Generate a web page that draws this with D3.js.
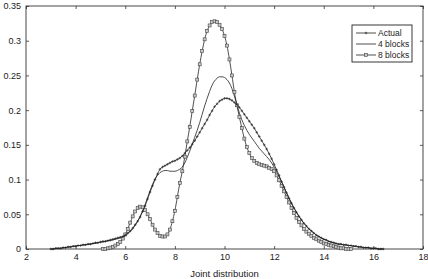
<!DOCTYPE html>
<html>
<head>
<meta charset="utf-8">
<script src="https://cdn.jsdelivr.net/npm/d3@7"></script>
<style>
  body { margin: 0; background: #fff; }
  svg { display: block; font-family: "Liberation Sans", Arial, sans-serif; }
</style>
</head>
<body>
<div id="chart"></div>
<script>
// tick labels
const xTicks = [2, 4, 6, 8, 10, 12, 14, 16, 18];
const yTicks = [0, 0.05, 0.1, 0.15, 0.2, 0.25, 0.3, 0.35];
const seriesNames = ["Actual", "4 blocks", "8 blocks"];

// sample grids (step 0.1)
const actualStart = 3.0;
const blocks4Start = 3.0;
const blocks8Start = 5.1;

// values, one per 0.1 on x
const actualY = [
  0.000, 0.000, 0.001, 0.001, 0.001, 0.002, 0.002, 0.003, 0.003, 0.004, // 3.0
  0.004, 0.005, 0.005, 0.006, 0.006, 0.007, 0.007, 0.008, 0.009, 0.009, // 4.0
  0.010, 0.011, 0.011, 0.012, 0.013, 0.014, 0.015, 0.016, 0.017, 0.018, // 5.0
  0.020, 0.023, 0.026, 0.030, 0.035, 0.040, 0.046, 0.054, 0.062, 0.072, // 6.0
  0.082, 0.091, 0.100, 0.108, 0.115, 0.118, 0.120, 0.122, 0.124, 0.126, // 7.0
  0.127, 0.129, 0.131, 0.134, 0.138, 0.142, 0.146, 0.151, 0.156, 0.162, // 8.0
  0.168, 0.174, 0.180, 0.186, 0.193, 0.199, 0.205, 0.209, 0.213, 0.215, // 9.0
  0.217, 0.217, 0.216, 0.214, 0.211, 0.208, 0.204, 0.199, 0.194, 0.189, // 10.0
  0.184, 0.179, 0.174, 0.168, 0.162, 0.156, 0.150, 0.144, 0.137, 0.130, // 11.0
  0.122, 0.114, 0.106, 0.097, 0.089, 0.081, 0.073, 0.066, 0.059, 0.053, // 12.0
  0.047, 0.042, 0.037, 0.033, 0.029, 0.026, 0.023, 0.020, 0.018, 0.016, // 13.0
  0.014, 0.013, 0.011, 0.010, 0.009, 0.008, 0.007, 0.007, 0.006, 0.006, // 14.0
  0.005, 0.005, 0.004, 0.004, 0.003, 0.003, 0.002, 0.002, 0.002, 0.001, // 15.0
  0.001, 0.001, 0.000, 0.000, 0.000                                      // 16.0
];

const blocks4Y = [
  0.000, 0.000, 0.001, 0.001, 0.001, 0.002, 0.002, 0.003, 0.003, 0.004, // 3.0
  0.004, 0.005, 0.005, 0.006, 0.006, 0.007, 0.007, 0.008, 0.008, 0.009, // 4.0
  0.010, 0.010, 0.011, 0.012, 0.012, 0.013, 0.014, 0.015, 0.016, 0.017, // 5.0
  0.019, 0.022, 0.025, 0.029, 0.034, 0.040, 0.047, 0.055, 0.064, 0.074, // 6.0
  0.084, 0.093, 0.101, 0.106, 0.110, 0.112, 0.113, 0.113, 0.112, 0.112, // 7.0
  0.112, 0.113, 0.115, 0.118, 0.124, 0.132, 0.141, 0.151, 0.161, 0.171, // 8.0
  0.182, 0.194, 0.206, 0.217, 0.227, 0.236, 0.242, 0.246, 0.248, 0.248, // 9.0
  0.247, 0.244, 0.239, 0.231, 0.220, 0.208, 0.196, 0.186, 0.178, 0.171, // 10.0
  0.165, 0.160, 0.155, 0.150, 0.145, 0.141, 0.137, 0.133, 0.129, 0.124, // 11.0
  0.118, 0.111, 0.104, 0.097, 0.089, 0.081, 0.073, 0.066, 0.059, 0.053, // 12.0
  0.047, 0.042, 0.037, 0.033, 0.029, 0.026, 0.023, 0.020, 0.018, 0.016, // 13.0
  0.014, 0.013, 0.011, 0.010, 0.009, 0.008, 0.007, 0.007, 0.006, 0.006, // 14.0
  0.005, 0.005, 0.004, 0.004, 0.003, 0.003, 0.002, 0.002, 0.002, 0.001, // 15.0
  0.001, 0.001, 0.000, 0.000, 0.000                                      // 16.0
];

const blocks8Y = [
                0.000, 0.000, 0.001, 0.002, 0.003, 0.005, 0.007, 0.010, 0.015, // 5.1
  0.021, 0.029, 0.038, 0.047, 0.054, 0.059, 0.061, 0.060, 0.056, 0.050, // 6.0
  0.043, 0.035, 0.028, 0.023, 0.019, 0.018, 0.018, 0.021, 0.028, 0.040, // 7.0
  0.055, 0.075, 0.095, 0.112, 0.133, 0.155, 0.176, 0.199, 0.221, 0.244, // 8.0
  0.266, 0.285, 0.302, 0.314, 0.322, 0.327, 0.328, 0.327, 0.323, 0.317, // 9.0
  0.307, 0.293, 0.273, 0.250, 0.226, 0.207, 0.190, 0.174, 0.159, 0.147, // 10.0
  0.138, 0.131, 0.127, 0.124, 0.122, 0.121, 0.120, 0.119, 0.117, 0.115, // 11.0
  0.112, 0.106, 0.099, 0.091, 0.083, 0.075, 0.067, 0.059, 0.052, 0.045, // 12.0
  0.039, 0.034, 0.029, 0.025, 0.022, 0.019, 0.016, 0.014, 0.012, 0.010, // 13.0
  0.008, 0.007, 0.006, 0.005, 0.004, 0.003, 0.002, 0.001, 0.001, 0.000, // 14.0
  0.000, 0.000                                                           // 15.0
];

function toPoints(start, ys) {
  return ys.map((v, i) => ({x: +(start + i * 0.1).toFixed(1), y: v}));
}

const actual = toPoints(actualStart, actualY);
const blocks4 = toPoints(blocks4Start, blocks4Y);
const blocks8 = toPoints(blocks8Start, blocks8Y);

const width = 428, height = 279;
const margin = {left: 26, right: 423, top: 6, bottom: 249};

const svg = d3.select("#chart").append("svg")
    .attr("width", width)
    .attr("height", height);

const x = d3.scaleLinear().domain([2, 18]).range([margin.left, margin.right]);
const y = d3.scaleLinear().domain([0, 0.35]).range([margin.bottom, margin.top]);

// frame with inward ticks on all sides (matlab style)
const tk = 3;
svg.append("g")
    .attr("transform", "translate(0," + margin.bottom + ")")
    .call(d3.axisBottom(x).tickValues(xTicks).tickSize(-tk).tickPadding(5).tickFormat(d3.format("d")))
    .call(g => g.select(".domain").remove());
svg.append("g")
    .attr("transform", "translate(0," + margin.top + ")")
    .call(d3.axisTop(x).tickValues(xTicks).tickSize(-tk).tickFormat(""))
    .call(g => g.select(".domain").remove());
svg.append("g")
    .attr("transform", "translate(" + margin.left + ",0)")
    .call(d3.axisLeft(y).tickValues(yTicks).tickSize(-tk).tickPadding(5).tickFormat(d => d === 0 ? "0" : String(+d.toFixed(2))))
    .call(g => g.select(".domain").remove());
svg.append("g")
    .attr("transform", "translate(" + margin.right + ",0)")
    .call(d3.axisRight(y).tickValues(yTicks).tickSize(-tk).tickFormat(""))
    .call(g => g.select(".domain").remove());

svg.selectAll(".tick line").attr("stroke", "#333").attr("stroke-width", 0.8);
svg.selectAll(".tick text").attr("font-size", 9).attr("fill", "#222")
    .attr("font-family", "'Liberation Sans', Arial, sans-serif");

svg.append("rect")
    .attr("x", margin.left).attr("y", margin.top)
    .attr("width", margin.right - margin.left).attr("height", margin.bottom - margin.top)
    .attr("fill", "none").attr("stroke", "#333").attr("stroke-width", 0.9);

const line = d3.line()
    .x(d => x(d.x))
    .y(d => y(d.y))
    .curve(d3.curveMonotoneX);

const plot = svg.append("g");

// 4 blocks: plain line
plot.append("path").datum(blocks4)
    .attr("d", line).attr("fill", "none")
    .attr("stroke", "#222").attr("stroke-width", 0.8);

// 8 blocks: line with squares
plot.append("path").datum(blocks8)
    .attr("d", line).attr("fill", "none")
    .attr("stroke", "#222").attr("stroke-width", 0.8);
plot.selectAll(".sq").data(blocks8).enter().append("rect")
    .attr("class", "sq")
    .attr("x", d => x(d.x) - 1.5).attr("y", d => y(d.y) - 1.5)
    .attr("width", 3).attr("height", 3)
    .attr("fill", "#c8c8c8").attr("stroke", "#444").attr("stroke-width", 0.6);

// actual: line with small plus markers
plot.append("path").datum(actual)
    .attr("d", line).attr("fill", "none")
    .attr("stroke", "#222").attr("stroke-width", 0.8);
plot.selectAll(".pl").data(actual).enter().append("path")
    .attr("class", "pl")
    .attr("d", d => {
        const cx = x(d.x), cy = y(d.y);
        return "M" + (cx - 1.3) + "," + cy + "H" + (cx + 1.3) + "M" + cx + "," + (cy - 1.3) + "V" + (cy + 1.3);
    })
    .attr("stroke", "#222").attr("stroke-width", 0.6);

// x label
svg.append("text")
    .attr("x", (margin.left + margin.right) / 2).attr("y", 277)
    .attr("text-anchor", "middle")
    .attr("font-size", 9.5).attr("fill", "#222")
    .text("Joint distribution");

// legend
const lg = svg.append("g");
lg.append("rect")
    .attr("x", 352).attr("y", 25).attr("width", 60).attr("height", 37)
    .attr("fill", "#fff").attr("stroke", "#222").attr("stroke-width", 0.9);
const rows = [33, 44, 55];
seriesNames.forEach((name, i) => {
    const ry = rows[i];
    lg.append("line")
        .attr("x1", 356).attr("x2", 376).attr("y1", ry).attr("y2", ry)
        .attr("stroke", "#222").attr("stroke-width", 0.8);
    if (i === 0) {
        lg.append("path")
            .attr("d", "M364.7," + ry + "H367.3M366," + (ry - 1.3) + "V" + (ry + 1.3))
            .attr("stroke", "#222").attr("stroke-width", 0.6);
    }
    if (i === 2) {
        lg.append("rect")
            .attr("x", 364.5).attr("y", ry - 1.5).attr("width", 3).attr("height", 3)
            .attr("fill", "#c8c8c8").attr("stroke", "#444").attr("stroke-width", 0.6);
    }
    lg.append("text")
        .attr("x", 378).attr("y", ry + 3)
        .attr("font-size", 8.5).attr("fill", "#222")
        .text(name);
});
</script>
</body>
</html>
